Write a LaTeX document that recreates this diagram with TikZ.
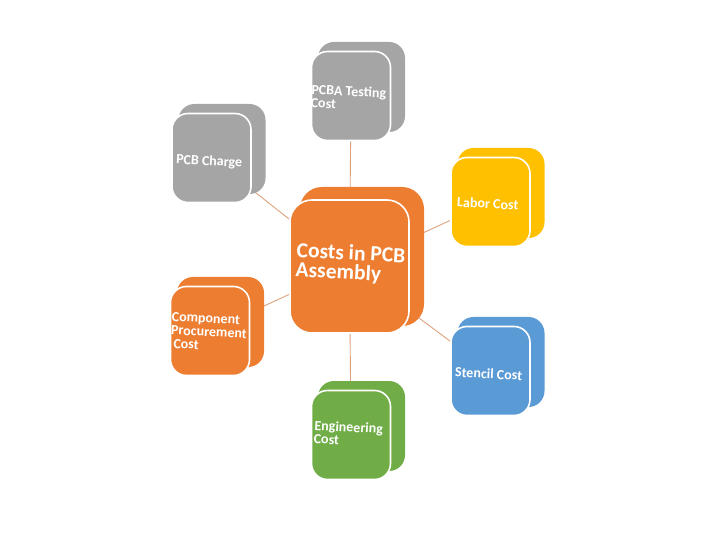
\documentclass[tikz,border=0pt]{standalone}
\usepackage{fontspec}
\setmainfont{Carlito}
\definecolor{cgray}{HTML}{A5A5A5}
\definecolor{corange}{HTML}{ED7D31}
\definecolor{cgold}{HTML}{FFC000}
\definecolor{cblue}{HTML}{5B9BD5}
\definecolor{cgreen}{HTML}{70AD47}
\definecolor{linec}{HTML}{DDA27C}
\pgfdeclarelayer{background}
\pgfsetlayers{background,main}
\tikzset{
  frontbox/.style={rounded corners=16pt, draw=white, line width=1.6pt, minimum width=79pt, minimum height=89pt, inner sep=0pt, fill=#1},
  backbox/.style={rounded corners=16pt, draw=none, minimum width=87pt, minimum height=90pt, inner sep=0pt, fill=#1},
  lbl/.style={text=white, font=\bfseries\fontsize{14}{13.5}\selectfont, align=left, rotate=-3, inner sep=0pt, anchor=west},
  conn/.style={draw=linec, line width=0.9pt}
}
\begin{document}
\begin{tikzpicture}[x=1pt,y=-1pt]
\useasboundingbox (0,0) rectangle (707,553);
% center
\node[backbox=corange, minimum width=124pt, minimum height=139pt, rounded corners=22pt] (cenb) at (362,256.5) {};
\node[frontbox=corange, minimum width=119pt, minimum height=133pt, rounded corners=22pt] (cen) at (349.5,266.5) {};
\node[lbl, font=\bfseries\fontsize{21.5}{19.5}\selectfont] (centxt) at (296,261) {Costs in PCB\\Assembly};
% PCBA testing
\node[backbox=cgray] (pcbab) at (361.5,87) {};
\node[frontbox=cgray] (pcba) at (351,96) {};
\node[lbl] (pcbatxt) at (311,96) {PCBA Testing\\Cost};
% PCB charge
\node[backbox=cgray] (pcbb) at (222,149) {};
\node[frontbox=cgray] (pcb) at (211.5,158) {};
\node[lbl] (pcbtxt) at (176,160) {PCB Charge};
% Labor
\node[backbox=cgold] (labb) at (501,193) {};
\node[frontbox=cgold] (lab) at (490.5,202) {};
\node[lbl] (labtxt) at (457,202) {Labor Cost};
% Stencil
\node[backbox=cblue] (stenb) at (501,362) {};
\node[frontbox=cblue] (sten) at (490.5,371) {};
\node[lbl] (stentxt) at (455,372) {Stencil Cost};
% Engineering
\node[backbox=cgreen] (engb) at (361.5,426) {};
\node[frontbox=cgreen] (eng) at (351,435) {};
\node[lbl] (engtxt) at (314,432) {Engineering\\Cost};
% Component
\node[backbox=corange] (compb) at (220.5,322) {};
\node[frontbox=corange] (comp) at (210,331) {};
\node[lbl] (comptxt) at (171,330) {Component\\Procurement\\\hspace{3pt}Cost};
\begin{pgfonlayer}{background}
\draw[conn] (cen) -- (pcba);
\draw[conn] (cen) -- (pcb);
\draw[conn] (cen) -- (lab);
\draw[conn] (cen) -- (sten);
\draw[conn] (cen) -- (eng);
\draw[conn] (cen) -- (comp);
\end{pgfonlayer}
\end{tikzpicture}
\end{document}
